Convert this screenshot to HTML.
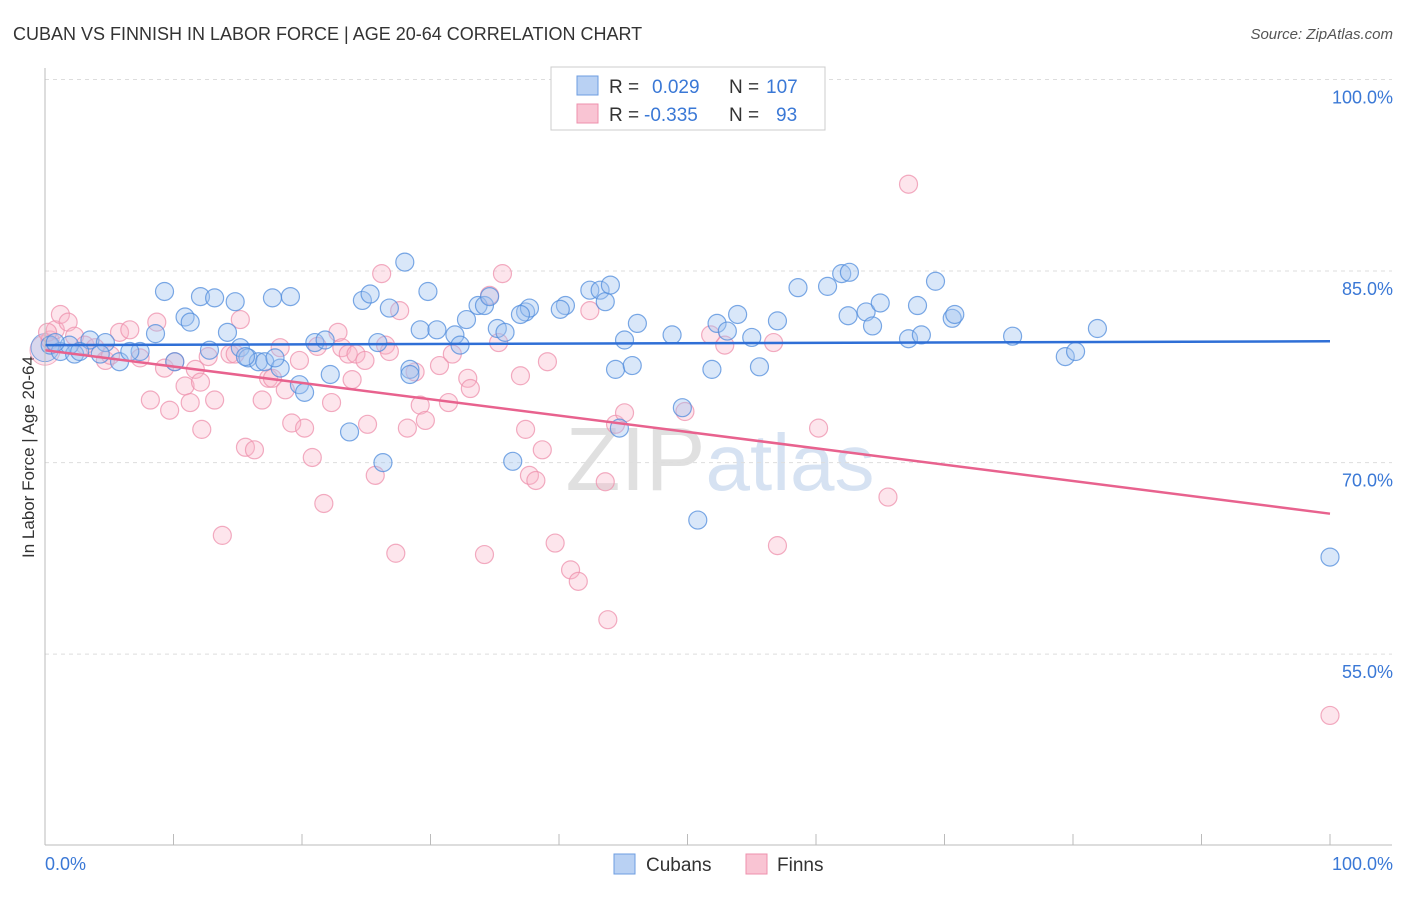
<!DOCTYPE html>
<html><head><meta charset="utf-8"><style>
body{margin:0;background:#fff;font-family:"Liberation Sans",sans-serif}
svg text{font-family:"Liberation Sans",sans-serif}
</style></head><body>
<svg width="1406" height="892" viewBox="0 0 1406 892" id="chart">
<text x="13" y="40" font-size="18" fill="#333">CUBAN VS FINNISH IN LABOR FORCE | AGE 20-64 CORRELATION CHART</text>
<text x="1393" y="39" font-size="15" fill="#555" font-style="italic" text-anchor="end">Source: ZipAtlas.com</text>
<text x="34" y="457" font-size="17" fill="#333" text-anchor="middle" transform="rotate(-90 34 457)">In Labor Force | Age 20-64</text>
<text x="720" y="490" font-size="90" fill="#e4e4e4" text-anchor="middle" font-family="Liberation Serif"><tspan fill="#e0e0e0">ZIP</tspan><tspan fill="#d6e2f2" font-family="Liberation Sans" font-size="80">atlas</tspan></text>
<g id="grid"></g><g id="pts"></g><g id="trend"></g>
<line x1="45" y1="68" x2="45" y2="845" stroke="#bbb"/>
<line x1="45" y1="845" x2="1392" y2="845" stroke="#bbb"/>
<text x="45" y="870" font-size="18" fill="#3a78d6">0.0%</text>
<text x="1393" y="870" font-size="18" fill="#3a78d6" text-anchor="end">100.0%</text>
<g>
<rect x="551" y="67" width="274" height="63" fill="#fff" stroke="#ccc"/>
<rect x="577" y="76" width="21" height="19" fill="#b9d1f3" stroke="#6d9de0"/>
<rect x="577" y="104" width="21" height="19" fill="#f9c4d3" stroke="#ee90ac"/>
<text x="609" y="93" font-size="19" fill="#333">R = <tspan fill="#3a78d6" x="652">0.029</tspan><tspan x="729" fill="#333">N = </tspan><tspan fill="#3a78d6" x="766">107</tspan></text>
<text x="609" y="121" font-size="19" fill="#333">R = <tspan fill="#3a78d6" x="644">-0.335</tspan><tspan x="729" fill="#333">N = </tspan><tspan fill="#3a78d6" x="776">93</tspan></text>
</g>
<g>
<rect x="614" y="854" width="21" height="20" fill="#b9d1f3" stroke="#6d9de0"/>
<text x="646" y="871" font-size="19" fill="#333">Cubans</text>
<rect x="746" y="854" width="21" height="20" fill="#f9c4d3" stroke="#ee90ac"/>
<text x="777" y="871" font-size="19" fill="#333">Finns</text>
</g>
</svg>
<script>
const yTicks=[100,85,70,55];
const yTickLabels=["100.0%","85.0%","70.0%","55.0%"];
const xTicks=[0,10,20,30,40,50,60,70,80,90,100];
const cubanX=[0.4,1.2,2.3,3.5,4.7,5.8,7.4,8.6,9.3,10.1,10.9,11.3,12.1,13.2,14.2,14.8,15.2,15.8,16.6,17.1,17.7,18.3,19.1,19.8,20.2,21.0,21.8,22.2,23.7,24.7,25.3,25.9,26.3,26.8,28.0,28.4,29.2,29.8,30.5,31.9,32.8,33.7,34.2,34.6,35.2,35.8,36.4,37.4,37.7,40.5,42.4,43.2,43.6,44.0,44.4,44.7,45.1,45.7,46.1,48.8,49.6,50.8,51.9,52.3,53.1,53.9,55.0,55.6,57.0,58.6,60.9,62.0,62.6,62.5,63.9,64.4,65.0,67.2,67.9,68.2,69.3,70.6,70.8,75.3,79.4,80.2,81.9,100,1.9,2.7,6.6,12.8,15.6,17.9,4.3,32.3,40.1,28.4,37.0,0.8];
const cubanY=[79.2,78.7,78.5,79.6,79.4,77.9,78.7,80.1,83.4,77.9,81.4,81.0,83.0,82.9,80.2,82.6,79.0,78.2,77.9,77.9,82.9,77.4,83.0,76.1,75.5,79.4,79.6,76.9,72.4,82.7,83.2,79.4,70.0,82.1,85.7,77.3,80.4,83.4,80.4,80.0,81.2,82.3,82.3,83.0,80.5,80.2,70.1,81.8,82.1,82.3,83.5,83.5,82.6,83.9,77.3,72.7,79.6,77.6,80.9,80.0,74.3,65.5,77.3,80.9,80.3,81.6,79.8,77.5,81.1,83.7,83.8,84.8,84.9,81.5,81.8,80.7,82.5,79.7,82.3,80.0,84.2,81.3,81.6,79.9,78.3,78.7,80.5,62.6,79.2,78.7,78.7,78.8,78.3,78.2,78.5,79.2,82.0,76.9,81.6,79.4];
const finnX=[0.4,0.8,1.2,1.8,2.3,3.1,3.9,4.7,5.8,6.6,7.4,8.2,8.7,9.3,9.7,10.1,10.9,11.3,11.7,12.1,12.2,12.7,13.2,13.8,14.4,14.8,15.2,15.6,16.3,16.9,17.4,17.7,18.3,18.7,19.2,19.8,20.2,20.8,21.2,21.7,22.3,22.8,23.1,23.6,23.9,24.2,24.9,25.1,25.7,26.2,26.5,26.8,27.3,27.6,28.2,28.8,29.2,29.6,30.7,31.4,31.7,32.9,33.1,34.2,34.6,35.3,35.6,37.0,37.4,37.7,38.2,38.7,39.1,39.7,40.9,41.5,42.4,43.6,43.8,44.4,45.1,46.7,49.8,51.8,52.9,56.7,57.0,60.2,65.6,67.2,100,0.2,5.1];
const finnY=[79.6,80.4,81.6,81.0,79.9,79.2,79.0,78.0,80.2,80.4,78.2,74.9,81.0,77.4,74.1,77.9,76.0,74.7,77.3,76.3,72.6,78.3,74.9,64.3,78.5,78.5,81.2,71.2,71.0,74.9,76.6,76.6,79.0,75.7,73.1,78.0,72.7,70.4,79.1,66.8,74.7,80.2,79.0,78.5,76.5,78.5,78.0,73.0,69.0,84.8,79.2,78.7,62.9,81.9,72.7,77.1,74.5,73.3,77.6,74.7,78.5,76.6,75.8,62.8,83.1,79.4,84.8,76.8,72.6,69.0,68.6,71.0,77.9,63.7,61.6,60.7,81.9,68.5,57.7,73.0,73.9,100.0,74.0,80.0,79.2,79.4,63.5,72.7,67.3,91.8,50.2,80.2,78.4];
const cubanTrend=[79.2,79.5];
const finnTrend=[78.8,66.0];
const NS="http://www.w3.org/2000/svg";
const xs=v=>45+v*12.85;
const ys=v=>79.5+(100-v)*12.77;
function mk(tag,attrs,parent){const e=document.createElementNS(NS,tag);for(const k in attrs)e.setAttribute(k,attrs[k]);parent.appendChild(e);return e;}
const grid=document.getElementById('grid');
yTicks.forEach((t,i)=>{
  const l=mk('line',{x1:45,x2:1392,y1:ys(t),y2:ys(t),stroke:'#ddd','stroke-dasharray':'4,4'},grid);
  
  
  const tx=mk('text',{x:1393,y:ys(t)+24,'font-size':18,fill:'#3a78d6','text-anchor':'end'},grid);
  tx.textContent=yTickLabels[i];
  
  
});
xTicks.forEach(t=>{
  const l=mk('line',{x1:xs(t),x2:xs(t),y1:834,y2:845,stroke:'#bbb'},grid);
  
  
});
const pts=document.getElementById('pts');
mk('circle',{cx:xs(0),cy:ys(78.8),r:15,fill:'rgba(249,180,200,0.35)',stroke:'rgba(238,144,172,0.7)'},pts);
mk('circle',{cx:xs(0),cy:ys(79.0),r:14,fill:'rgba(160,195,240,0.4)',stroke:'rgba(80,140,220,0.7)'},pts);
finnX.forEach((x,i)=>{
  const c=mk('circle',{cx:xs(x),cy:ys(finnY[i]),r:9,fill:'rgba(249,180,200,0.35)',stroke:'rgba(238,144,172,0.75)','stroke-width':1.2},pts);
  
  
});
cubanX.forEach((x,i)=>{
  const c=mk('circle',{cx:xs(x),cy:ys(cubanY[i]),r:9,fill:'rgba(160,195,240,0.4)',stroke:'rgba(80,140,220,0.75)','stroke-width':1.2},pts);
  
  
});
const tr=document.getElementById('trend');
const l1=mk('line',{x1:xs(0),x2:xs(100),y1:ys(cubanTrend[0]),y2:ys(cubanTrend[1]),stroke:'#2f6fd6','stroke-width':2.5},tr);


const l2=mk('line',{x1:xs(0),x2:xs(100),y1:ys(finnTrend[0]),y2:ys(finnTrend[1]),stroke:'#e8628e','stroke-width':2.5},tr);


</script>
</body></html>
